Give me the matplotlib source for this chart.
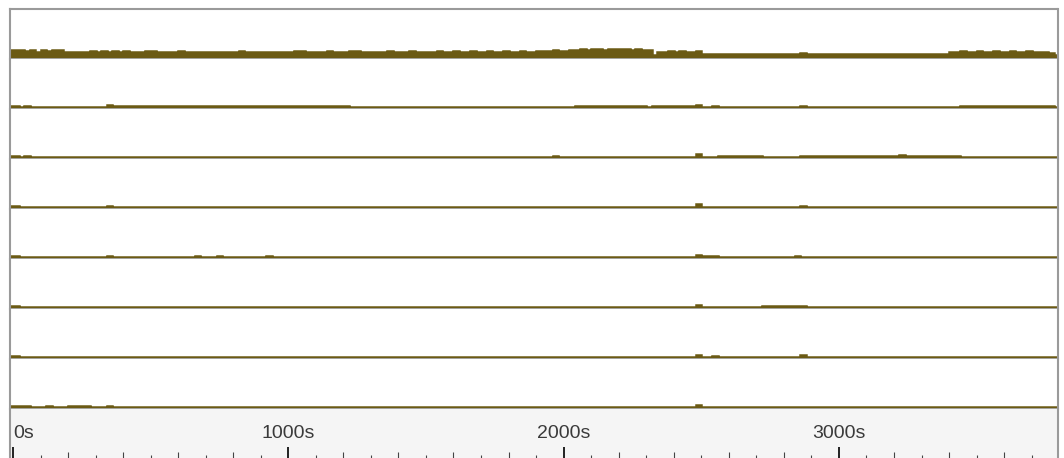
import numpy as np
import matplotlib
matplotlib.use("Agg")
import matplotlib.pyplot as plt
from matplotlib.ticker import FixedLocator

# ---------------- data (20 s bins, 0 .. 3800 s), heights ----------------
BIN_SECONDS = 20

row1 = [7, 7, 6, 7, 5, 7, 6, 7, 7, 5,
        5, 5, 5, 5, 6, 5, 6, 5, 6, 5,
        6, 5, 5, 5, 6, 6, 5, 5, 5, 5,
        6, 5, 5, 5, 5, 5, 5, 5, 5, 5,
        5, 6, 5, 5, 5, 5, 5, 5, 5, 5,
        5, 6, 6, 5, 5, 5, 5, 6, 5, 5,
        5, 6, 6, 5, 5, 5, 5, 5, 6, 5,
        5, 5, 6, 5, 5, 5, 5, 6, 5, 5,
        6, 5, 5, 6, 5, 5, 6, 5, 5, 6,
        5, 5, 6, 5, 5, 6, 6, 6, 7, 6,
        6, 7, 7, 8, 7, 8, 8, 7, 8, 8,
        8, 8, 7, 8, 7, 7, 2, 5, 5, 6,
        5, 6, 5, 5, 6, 3, 3, 3, 3, 3,
        3, 3, 3, 3, 3, 3, 3, 3, 3, 3,
        3, 3, 3, 4, 3, 3, 3, 3, 3, 3,
        3, 3, 3, 3, 3, 3, 3, 3, 3, 3,
        3, 3, 3, 3, 3, 3, 3, 3, 3, 3,
        5, 5, 6, 5, 5, 6, 5, 5, 6, 5,
        5, 6, 5, 5, 6, 5, 5, 5, 4, 2]

row2 = [1, 0, 1, 0, 0, 0, 0, 0, 0, 0,
        0, 0, 0, 0, 0, 0, 0, 2, 1, 1,
        1, 1, 1, 1, 1, 1.5, 1, 1, 1, 1,
        1, 1.5, 1, 1, 1, 1, 1, 1.5, 1, 1,
        1, 1.5, 1, 1, 1, 1, 1, 1, 1, 1,
        1.5, 1, 1, 1, 1, 1, 1, 1, 1, 1,
        1, 0, 0, 0, 0, 0, 0, 0, 0, 0,
        0, 0, 0, 0, 0, 0, 0, 0, 0, 0,
        0, 0, 0, 0, 0, 0, 0, 0, 0, 0,
        0, 0, 0, 0, 0, 0, 0, 0, 0, 0,
        0, 0, 1, 1, 1, 1, 1, 1, 1, 1,
        1, 1, 1, 1, 1, 0.5, 1, 1, 1, 1,
        1, 1, 1, 1, 2, 0, 0, 1, 0, 0,
        0, 0, 0, 0, 0, 0, 0, 0, 0, 0,
        0, 0, 0, 1.5, 0, 0, 0, 0, 0, 0,
        0, 0, 0, 0, 0, 0, 0, 0, 0, 0,
        0, 0, 0, 0, 0, 0, 0, 0, 0, 0,
        0, 0, 1, 1, 1, 1, 1, 1, 1, 1,
        1, 1, 1, 1, 1, 1, 1, 1, 1, 0.5]

row3 = [1, 0, 1, 0, 0, 0, 0, 0, 0, 0,
        0, 0, 0, 0, 0, 0, 0, 0, 0, 0,
        0, 0, 0, 0, 0, 0, 0, 0, 0, 0,
        0, 0, 0, 0, 0, 0, 0, 0, 0, 0,
        0, 0, 0, 0, 0, 0, 0, 0, 0, 0,
        0, 0, 0, 0, 0, 0, 0, 0, 0, 0,
        0, 0, 0, 0, 0, 0, 0, 0, 0, 0,
        0, 0, 0, 0, 0, 0, 0, 0, 0, 0,
        0, 0, 0, 0, 0, 0, 0, 0, 0, 0,
        0, 0, 0, 0, 0, 0, 0, 0, 1, 0,
        0, 0, 0, 0, 0, 0, 0, 0, 0, 0,
        0, 0, 0, 0, 0, 0, 0, 0, 0, 0,
        0, 0, 0, 0, 3.5, 0, 0, 0, 1, 1,
        1, 1, 1, 1, 1, 1, 0, 0, 0, 0,
        0, 0, 0, 1, 1, 1, 1, 1, 1, 1,
        1.5, 1, 1, 1, 1, 1, 1.5, 1, 1, 1,
        1, 2, 1, 1, 1, 1, 1.5, 1, 1, 1,
        1, 1, 0, 0, 0, 0, 0, 0, 0, 0,
        0, 0, 0, 0, 0, 0, 0, 0, 0, 0]

row4 = [1.5, 0, 0, 0, 0, 0, 0, 0, 0, 0,
        0, 0, 0, 0, 0, 0, 0, 1, 0, 0,
        0, 0, 0, 0, 0, 0, 0, 0, 0, 0,
        0, 0, 0, 0, 0, 0, 0, 0, 0, 0,
        0, 0, 0, 0, 0, 0, 0, 0, 0, 0,
        0, 0, 0, 0, 0, 0, 0, 0, 0, 0,
        0, 0, 0, 0, 0, 0, 0, 0, 0, 0,
        0, 0, 0, 0, 0, 0, 0, 0, 0, 0,
        0, 0, 0, 0, 0, 0, 0, 0, 0, 0,
        0, 0, 0, 0, 0, 0, 0, 0, 0, 0,
        0, 0, 0, 0, 0, 0, 0, 0, 0, 0,
        0, 0, 0, 0, 0, 0, 0, 0, 0, 0,
        0, 0, 0, 0, 3, 0, 0, 0, 0, 0,
        0, 0, 0, 0, 0, 0, 0, 0, 0, 0,
        0, 0, 0, 1.5, 0, 0, 0, 0, 0, 0,
        0, 0, 0, 0, 0, 0, 0, 0, 0, 0,
        0, 0, 0, 0, 0, 0, 0, 0, 0, 0,
        0, 0, 0, 0, 0, 0, 0, 0, 0, 0,
        0, 0, 0, 0, 0, 0, 0, 0, 0, 0]

row5 = [1, 0, 0, 0, 0, 0, 0, 0, 0, 0,
        0, 0, 0, 0, 0, 0, 0, 1, 0, 0,
        0, 0, 0, 0, 0, 0, 0, 0, 0, 0,
        0, 0, 0, 1, 0, 0, 0, 1, 0, 0,
        0, 0, 0, 0, 0, 0, 1, 0, 0, 0,
        0, 0, 0, 0, 0, 0, 0, 0, 0, 0,
        0, 0, 0, 0, 0, 0, 0, 0, 0, 0,
        0, 0, 0, 0, 0, 0, 0, 0, 0, 0,
        0, 0, 0, 0, 0, 0, 0, 0, 0, 0,
        0, 0, 0, 0, 0, 0, 0, 0, 0, 0,
        0, 0, 0, 0, 0, 0, 0, 0, 0, 0,
        0, 0, 0, 0, 0, 0, 0, 0, 0, 0,
        0, 0, 0, 0, 2.5, 1, 1, 1, 0, 0,
        0, 0, 0, 0, 0, 0, 0, 0, 0, 0,
        0, 0, 1, 0, 0, 0, 0, 0, 0, 0,
        0, 0, 0, 0, 0, 0, 0, 0, 0, 0,
        0, 0, 0, 0, 0, 0, 0, 0, 0, 0,
        0, 0, 0, 0, 0, 0, 0, 0, 0, 0,
        0, 0, 0, 0, 0, 0, 0, 0, 0, 0]

row6 = [1, 0, 0, 0, 0, 0, 0, 0, 0, 0,
        0, 0, 0, 0, 0, 0, 0, 0, 0, 0,
        0, 0, 0, 0, 0, 0, 0, 0, 0, 0,
        0, 0, 0, 0, 0, 0, 0, 0, 0, 0,
        0, 0, 0, 0, 0, 0, 0, 0, 0, 0,
        0, 0, 0, 0, 0, 0, 0, 0, 0, 0,
        0, 0, 0, 0, 0, 0, 0, 0, 0, 0,
        0, 0, 0, 0, 0, 0, 0, 0, 0, 0,
        0, 0, 0, 0, 0, 0, 0, 0, 0, 0,
        0, 0, 0, 0, 0, 0, 0, 0, 0, 0,
        0, 0, 0, 0, 0, 0, 0, 0, 0, 0,
        0, 0, 0, 0, 0, 0, 0, 0, 0, 0,
        0, 0, 0, 0, 2.5, 0, 0, 0, 0, 0,
        0, 0, 0, 0, 0, 0, 1.5, 1.5, 1.5, 1,
        1.5, 1.5, 1.5, 1, 0, 0, 0, 0, 0, 0,
        0, 0, 0, 0, 0, 0, 0, 0, 0, 0,
        0, 0, 0, 0, 0, 0, 0, 0, 0, 0,
        0, 0, 0, 0, 0, 0, 0, 0, 0, 0,
        0, 0, 0, 0, 0, 0, 0, 0, 0, 0]

row7 = [1, 0, 0, 0, 0, 0, 0, 0, 0, 0,
        0, 0, 0, 0, 0, 0, 0, 0, 0, 0,
        0, 0, 0, 0, 0, 0, 0, 0, 0, 0,
        0, 0, 0, 0, 0, 0, 0, 0, 0, 0,
        0, 0, 0, 0, 0, 0, 0, 0, 0, 0,
        0, 0, 0, 0, 0, 0, 0, 0, 0, 0,
        0, 0, 0, 0, 0, 0, 0, 0, 0, 0,
        0, 0, 0, 0, 0, 0, 0, 0, 0, 0,
        0, 0, 0, 0, 0, 0, 0, 0, 0, 0,
        0, 0, 0, 0, 0, 0, 0, 0, 0, 0,
        0, 0, 0, 0, 0, 0, 0, 0, 0, 0,
        0, 0, 0, 0, 0, 0, 0, 0, 0, 0,
        0, 0, 0, 0, 2, 0, 0, 1, 0, 0,
        0, 0, 0, 0, 0, 0, 0, 0, 0, 0,
        0, 0, 0, 2, 0, 0, 0, 0, 0, 0,
        0, 0, 0, 0, 0, 0, 0, 0, 0, 0,
        0, 0, 0, 0, 0, 0, 0, 0, 0, 0,
        0, 0, 0, 0, 0, 0, 0, 0, 0, 0,
        0, 0, 0, 0, 0, 0, 0, 0, 0, 0]

row8 = [1, 1, 1, 0, 0, 0, 1, 0, 0, 0,
        1.5, 1, 1.5, 1, 0, 0, 0, 1.5, 0, 0,
        0, 0, 0, 0, 0, 0, 0, 0, 0, 0,
        0, 0, 0, 0, 0, 0, 0, 0, 0, 0,
        0, 0, 0, 0, 0, 0, 0, 0, 0, 0,
        0, 0, 0, 0, 0, 0, 0, 0, 0, 0,
        0, 0, 0, 0, 0, 0, 0, 0, 0, 0,
        0, 0, 0, 0, 0, 0, 0, 0, 0, 0,
        0, 0, 0, 0, 0, 0, 0, 0, 0, 0,
        0, 0, 0, 0, 0, 0, 0, 0, 0, 0,
        0, 0, 0, 0, 0, 0, 0, 0, 0, 0,
        0, 0, 0, 0, 0, 0, 0, 0, 0, 0,
        0, 0, 0, 0, 2, 0, 0, 0, 0, 0,
        0, 0, 0, 0, 0, 0, 0, 0, 0, 0,
        0, 0, 0, 0, 0, 0, 0, 0, 0, 0,
        0, 0, 0, 0, 0, 0, 0, 0, 0, 0,
        0, 0, 0, 0, 0, 0, 0, 0, 0, 0,
        0, 0, 0, 0, 0, 0, 0, 0, 0, 0,
        0, 0, 0, 0, 0, 0, 0, 0, 0, 0]

rows = [row1, row2, row3, row4, row5, row6, row7, row8]

tick_major = [0, 1000, 2000, 3000]
tick_labels = ["0s", "1000s", "2000s", "3000s"]
tick_step_small = 100

# ---------------- layout ----------------
W, H = 1064, 458
fig = plt.figure(figsize=(W / 100, H / 100), dpi=100)
fig.patch.set_facecolor("white")

XMIN, XMAX = -10.9, 3794.0
L, R = 10.0 / W, 1057.5 / W
TOP_PX, BOT_PX = 9.0, 408.5
ROW_H = (BOT_PX - TOP_PX) / len(rows)
Y_BOTTOM = -1.5

OLIVE = "#6b5a14"
BORDER = "#9a9a9a"
SEP = "#ababab"

for i, vals in enumerate(rows):
    y0 = TOP_PX + i * ROW_H
    ax = fig.add_axes([L, 1 - (y0 + ROW_H) / H, R - L, ROW_H / H])
    edges = np.arange(len(vals) + 1, dtype=float) * BIN_SECONDS
    edges[0] = XMIN
    v = np.asarray(vals, dtype=float)
    ax.stairs(v, edges, fill=True, baseline=Y_BOTTOM, color=OLIVE, linewidth=0)
    ax.stairs(v, edges, baseline=None, color=OLIVE, linewidth=1.8)
    ax.set_xlim(XMIN, XMAX)
    ax.set_ylim(Y_BOTTOM, ROW_H + Y_BOTTOM)
    ax.set_xticks([])
    ax.set_yticks([])
    for side in ("left", "right"):
        ax.spines[side].set_color(BORDER)
        ax.spines[side].set_linewidth(1.5)
    ax.spines["bottom"].set_color(SEP)
    ax.spines["bottom"].set_linewidth(1.3)
    ax.spines["bottom"].set_zorder(5)
    if i == 0:
        ax.spines["top"].set_color(BORDER)
        ax.spines["top"].set_linewidth(1.5)
    else:
        ax.spines["top"].set_visible(False)
    ax.set_facecolor("white")

# ---------------- time axis strip ----------------
axx = fig.add_axes([L, 0, R - L, (H - BOT_PX) / H])
axx.set_facecolor("#f5f5f5")
axx.set_xlim(XMIN, XMAX)
axx.set_ylim(0, 1)
axx.set_yticks([])
axx.spines["top"].set_visible(False)
axx.spines["bottom"].set_visible(False)
for side in ("left", "right"):
    axx.spines[side].set_color(BORDER)
    axx.spines[side].set_linewidth(1.5)

all_small = np.arange(0, XMAX, tick_step_small)
odd_small = [t for t in all_small if (t // tick_step_small) % 2 == 1]
even_small = [t for t in all_small if (t // tick_step_small) % 2 == 0 and t % 1000 != 0]

axx.set_xticks(tick_major)
axx.set_xticklabels([])
axx.xaxis.set_minor_locator(FixedLocator(odd_small))
axx.tick_params(axis="x", which="major", direction="in", length=8.2, width=1.4, color="#222222")
axx.tick_params(axis="x", which="minor", direction="in", length=2.3, width=0.8, color="#444444")

sec = axx.secondary_xaxis("bottom")
sec.set_xticks(even_small)
sec.set_xticklabels([])
sec.tick_params(axis="x", direction="in", length=4.4, width=0.8, color="#444444")
sec.spines["bottom"].set_visible(False)

for t, lab in zip(tick_major, tick_labels):
    axx.text(t, 0.50, lab, ha="left" if t == tick_major[0] else "center", va="center",
             fontsize=14, family=["Liberation Sans", "DejaVu Sans"], color="#3a3a3a")

fig.savefig("out.png", dpi=100)
